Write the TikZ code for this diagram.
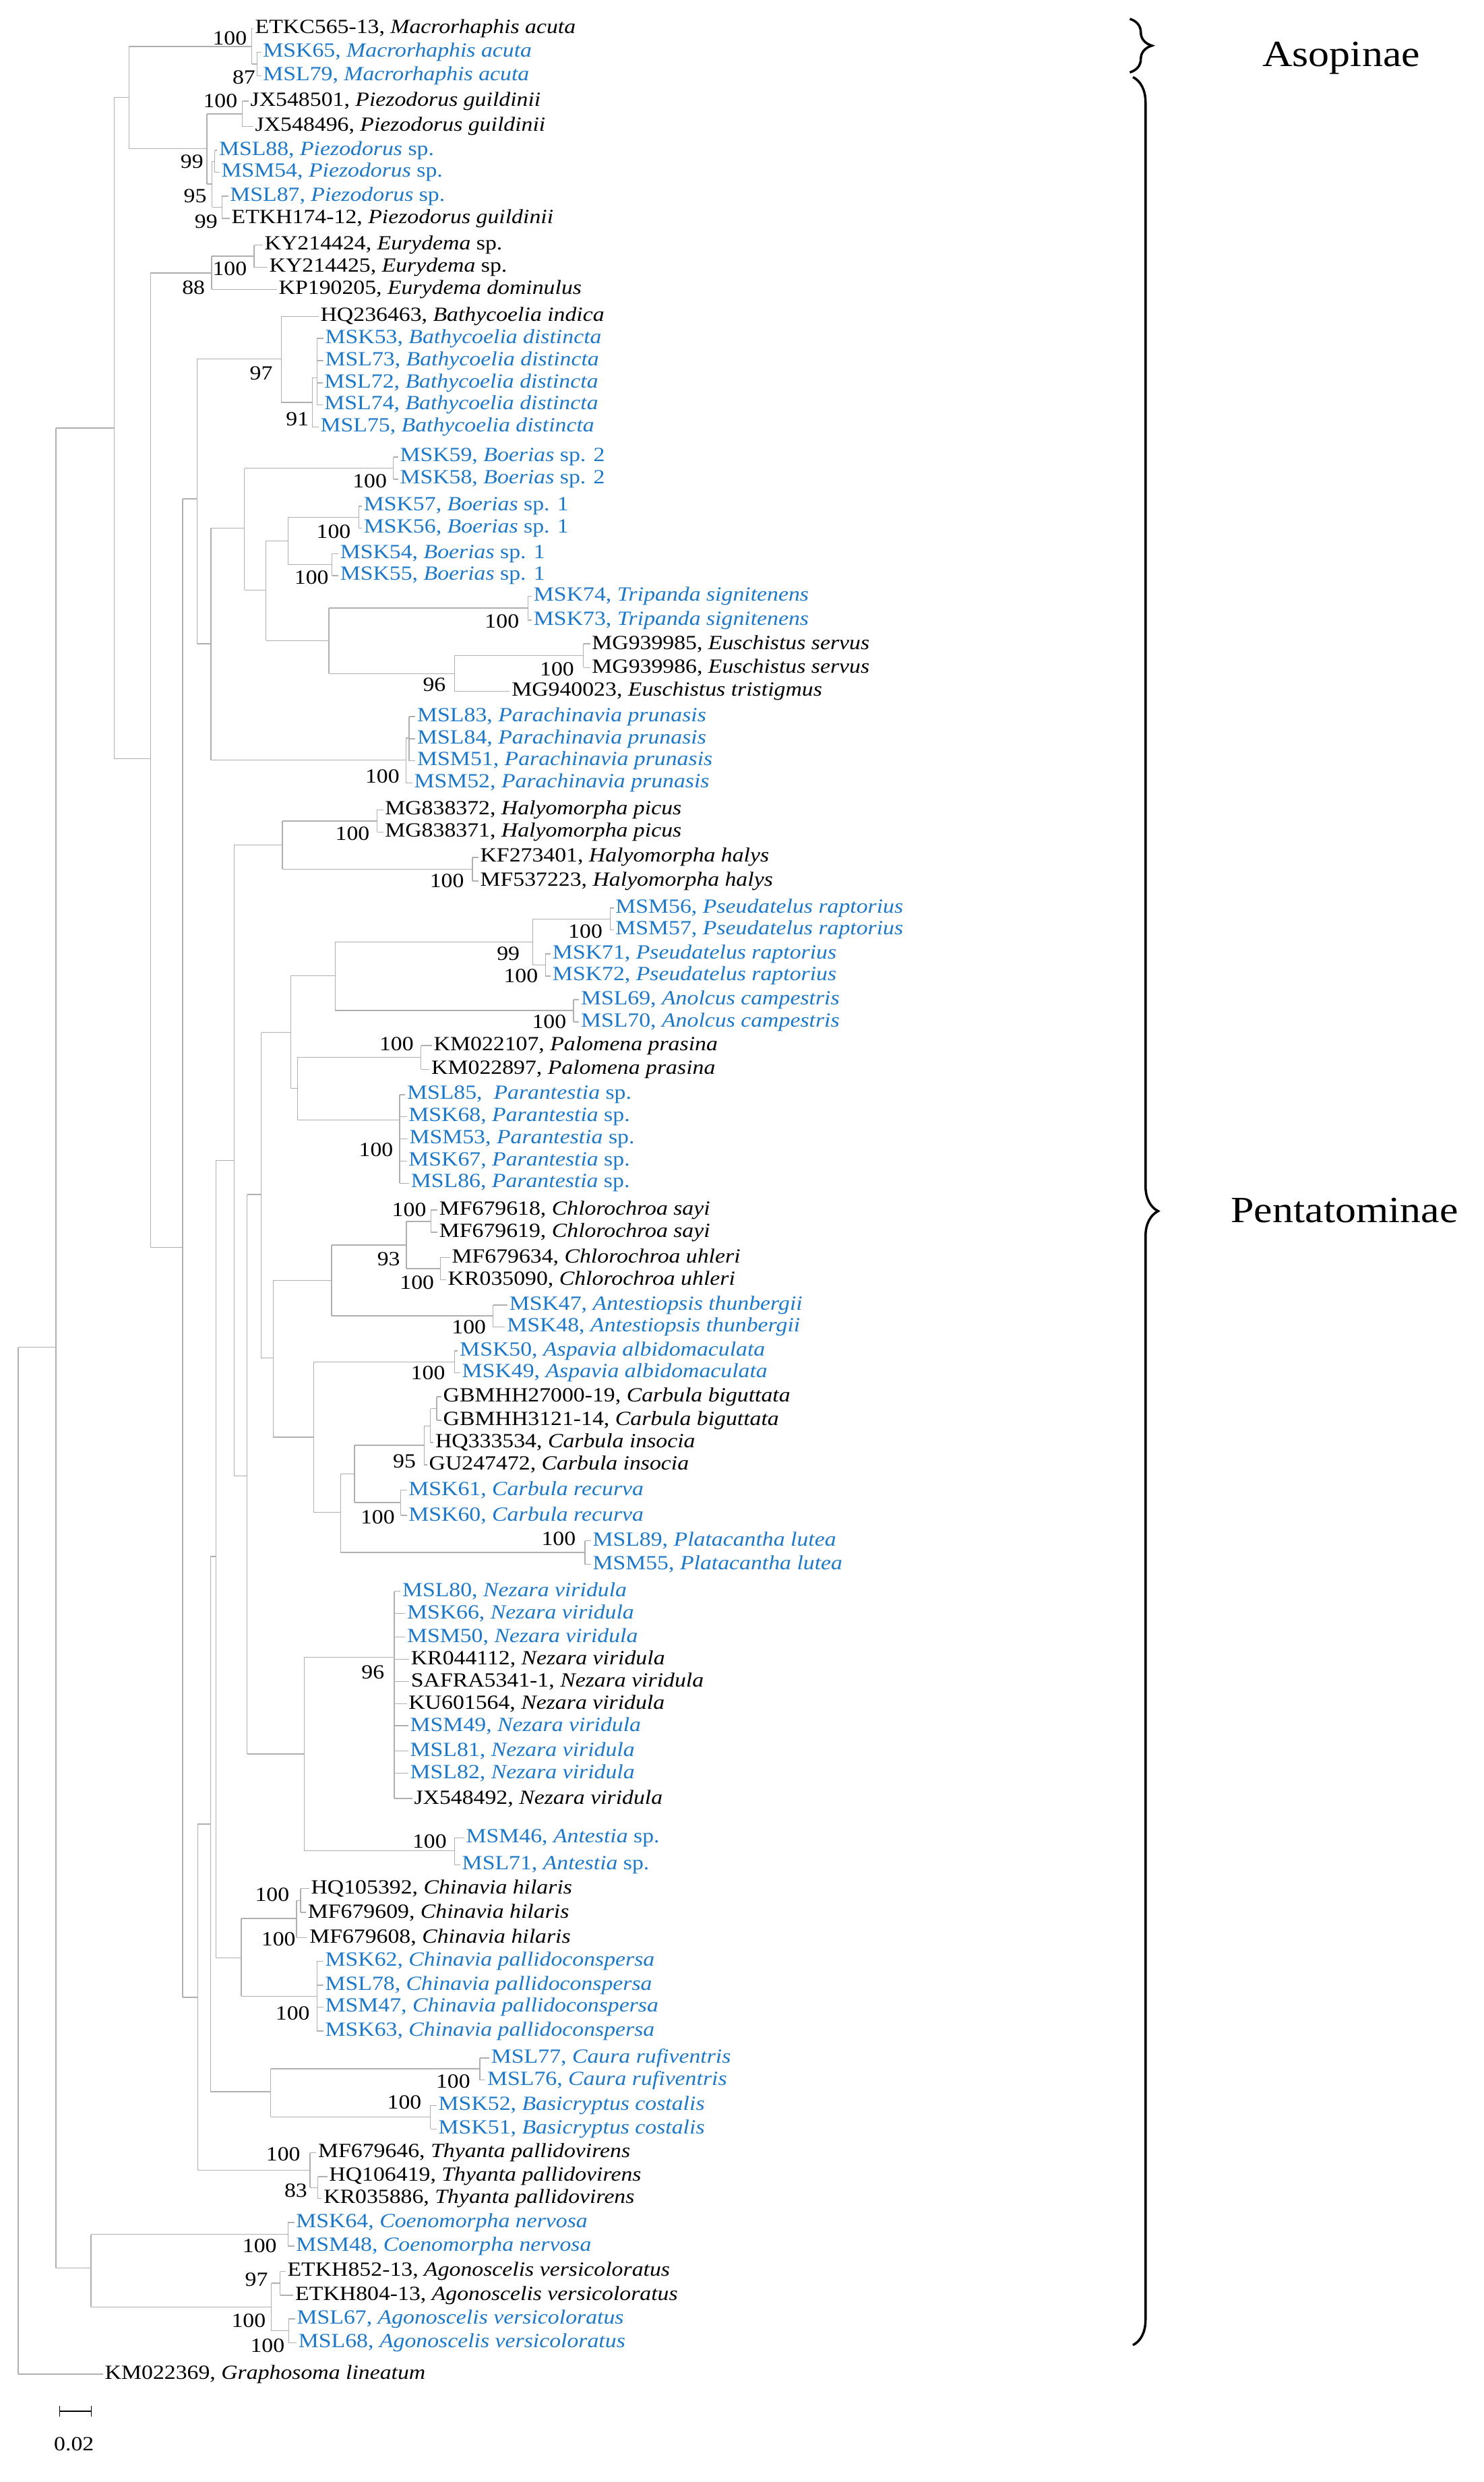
\documentclass[tikz,border=0pt]{standalone}
\usepackage{fontspec}
\setmainfont{Liberation Serif}[FakeStretch=1.13]
\usetikzlibrary{decorations.pathreplacing}
\definecolor{sblue}{RGB}{30,120,200}
\definecolor{brg}{RGB}{175,175,175}
\newcommand\sn[1]{\textit{#1}}
\newcommand\Tip[5]{\node[tip,text=#5] (#1) at (#2,{1.005*#3}) {#4};}
\newcommand\Tips[2]{\foreach \tn in {#2}{\draw[br] (\tn.west -| #1,0) -- (\tn.west);}}
\newcommand\Vt[3]{\draw[br] (#2.west -| #1,0) -- (#3.west -| #1,0);}
\newcommand\Vm[3]{\draw[br] (#1,#2) -- (#3.west -| #1,0);}
\newcommand\Vb[3]{\draw[br] (#1,#2) -- (#1,#3);}
\newcommand\Hb[3]{\draw[br] (#1,#3) -- (#2,#3);}
\newcommand\Bs[3]{\node[bs] at (#1,{1.005*#2}) {#3};}
\begin{document}
\begin{tikzpicture}[x=1pt,y=-1pt,
  tip/.style={anchor=west,inner sep=1pt,font=\fontsize{12.8}{14}\selectfont},
  bs/.style={inner sep=0pt,font=\fontsize{12.8}{14}\selectfont},
  br/.style={draw=brg,line width=0.6pt},
  brace/.style={decorate,line width=1.5pt}]
\useasboundingbox (0,0) rectangle (943,1577);
% ---------- tips ----------
\Tip{t1}{161}{18}{ETKC565-13, \sn{Macrorhaphis acuta}}{black}
\Tip{t2}{166}{33}{MSK65, \sn{Macrorhaphis acuta}}{sblue}
\Tip{t3}{166}{48}{MSL79, \sn{Macrorhaphis acuta}}{sblue}
\Tip{t4}{158}{64}{JX548501, \sn{Piezodorus guildinii}}{black}
\Tip{t5}{161}{80}{JX548496, \sn{Piezodorus guildinii}}{black}
\Tip{t6}{138}{95}{MSL88, \sn{Piezodorus} sp.}{sblue}
\Tip{t7}{139.5}{109}{MSM54, \sn{Piezodorus} sp.}{sblue}
\Tip{t8}{145}{124}{MSL87, \sn{Piezodorus} sp.}{sblue}
\Tip{t9}{146}{138}{ETKH174-12, \sn{Piezodorus guildinii}}{black}
\Tip{t10}{167}{155}{KY214424, \sn{Eurydema} sp.}{black}
\Tip{t11}{170}{169}{KY214425, \sn{Eurydema} sp.}{black}
\Tip{t12}{176}{183}{KP190205, \sn{Eurydema dominulus}}{black}
\Tip{t13}{202.5}{200}{HQ236463, \sn{Bathycoelia indica}}{black}
\Tip{t14}{205.5}{214}{MSK53, \sn{Bathycoelia distincta}}{sblue}
\Tip{t15}{205.5}{228}{MSL73, \sn{Bathycoelia distincta}}{sblue}
\Tip{t16}{205}{242}{MSL72, \sn{Bathycoelia distincta}}{sblue}
\Tip{t17}{205}{256}{MSL74, \sn{Bathycoelia distincta}}{sblue}
\Tip{t18}{202.5}{270}{MSL75, \sn{Bathycoelia distincta}}{sblue}
\Tip{t19}{253}{289}{MSK59, \sn{Boerias} sp. 2}{sblue}
\Tip{t20}{253}{303}{MSK58, \sn{Boerias} sp. 2}{sblue}
\Tip{t21}{230}{320}{MSK57, \sn{Boerias} sp. 1}{sblue}
\Tip{t22}{230}{334}{MSK56, \sn{Boerias} sp. 1}{sblue}
\Tip{t23}{215}{350}{MSK54, \sn{Boerias} sp. 1}{sblue}
\Tip{t24}{215}{364}{MSK55, \sn{Boerias} sp. 1}{sblue}
\Tip{t25}{338}{377}{MSK74, \sn{Tripanda signitenens}}{sblue}
\Tip{t26}{338}{392}{MSK73, \sn{Tripanda signitenens}}{sblue}
\Tip{t27}{375}{407}{MG939985, \sn{Euschistus servus}}{black}
\Tip{t28}{375}{422}{MG939986, \sn{Euschistus servus}}{black}
\Tip{t29}{324}{437}{MG940023, \sn{Euschistus tristigmus}}{black}
\Tip{t30}{264}{453}{MSL83, \sn{Parachinavia prunasis}}{sblue}
\Tip{t31}{264}{467}{MSL84, \sn{Parachinavia prunasis}}{sblue}
\Tip{t32}{264}{481}{MSM51, \sn{Parachinavia prunasis}}{sblue}
\Tip{t33}{262}{495}{MSM52, \sn{Parachinavia prunasis}}{sblue}
\Tip{t34}{243.5}{512}{MG838372, \sn{Halyomorpha picus}}{black}
\Tip{t35}{243.5}{526}{MG838371, \sn{Halyomorpha picus}}{black}
\Tip{t36}{304}{542}{KF273401, \sn{Halyomorpha halys}}{black}
\Tip{t37}{304}{557}{MF537223, \sn{Halyomorpha halys}}{black}
\Tip{t38}{390}{574}{MSM56, \sn{Pseudatelus raptorius}}{sblue}
\Tip{t39}{390}{588}{MSM57, \sn{Pseudatelus raptorius}}{sblue}
\Tip{t40}{350}{603}{MSK71, \sn{Pseudatelus raptorius}}{sblue}
\Tip{t41}{350}{617}{MSK72, \sn{Pseudatelus raptorius}}{sblue}
\Tip{t42}{368}{632}{MSL69, \sn{Anolcus campestris}}{sblue}
\Tip{t43}{368}{646}{MSL70, \sn{Anolcus campestris}}{sblue}
\Tip{t44}{274.5}{661}{KM022107, \sn{Palomena prasina}}{black}
\Tip{t45}{273}{676}{KM022897, \sn{Palomena prasina}}{black}
\Tip{t46}{257.5}{692}{MSL85,\ \ \sn{Parantestia} sp.}{sblue}
\Tip{t47}{258.5}{706}{MSK68, \sn{Parantestia} sp.}{sblue}
\Tip{t48}{259}{720}{MSM53, \sn{Parantestia} sp.}{sblue}
\Tip{t49}{258.5}{734}{MSK67, \sn{Parantestia} sp.}{sblue}
\Tip{t50}{260}{748}{MSL86, \sn{Parantestia} sp.}{sblue}
\Tip{t51}{278}{765}{MF679618, \sn{Chlorochroa sayi}}{black}
\Tip{t52}{278}{779}{MF679619, \sn{Chlorochroa sayi}}{black}
\Tip{t53}{286}{795}{MF679634, \sn{Chlorochroa uhleri}}{black}
\Tip{t54}{283.5}{809}{KR035090, \sn{Chlorochroa uhleri}}{black}
\Tip{t55}{322.5}{825}{MSK47, \sn{Antestiopsis thunbergii}}{sblue}
\Tip{t56}{321}{839}{MSK48, \sn{Antestiopsis thunbergii}}{sblue}
\Tip{t57}{291}{854}{MSK50, \sn{Aspavia albidomaculata}}{sblue}
\Tip{t58}{292.5}{868}{MSK49, \sn{Aspavia albidomaculata}}{sblue}
\Tip{t59}{280.5}{883}{GBMHH27000-19, \sn{Carbula biguttata}}{black}
\Tip{t60}{280.5}{898}{GBMHH3121-14, \sn{Carbula biguttata}}{black}
\Tip{t61}{275.5}{912}{HQ333534, \sn{Carbula insocia}}{black}
\Tip{t62}{271.5}{926}{GU247472, \sn{Carbula insocia}}{black}
\Tip{t63}{258.5}{942}{MSK61, \sn{Carbula recurva}}{sblue}
\Tip{t64}{258.5}{958}{MSK60, \sn{Carbula recurva}}{sblue}
\Tip{t65}{375.5}{974}{MSL89, \sn{Platacantha lutea}}{sblue}
\Tip{t66}{375.5}{989}{MSM55, \sn{Platacantha lutea}}{sblue}
\Tip{t67}{254.5}{1006}{MSL80, \sn{Nezara viridula}}{sblue}
\Tip{t68}{257.5}{1020}{MSK66, \sn{Nezara viridula}}{sblue}
\Tip{t69}{257.5}{1035}{MSM50, \sn{Nezara viridula}}{sblue}
\Tip{t70}{260}{1049}{KR044112, \sn{Nezara viridula}}{black}
\Tip{t71}{260}{1063}{SAFRA5341-1, \sn{Nezara viridula}}{black}
\Tip{t72}{258.5}{1077}{KU601564, \sn{Nezara viridula}}{black}
\Tip{t73}{259.5}{1091}{MSM49, \sn{Nezara viridula}}{sblue}
\Tip{t74}{259.5}{1107}{MSL81, \sn{Nezara viridula}}{sblue}
\Tip{t75}{259.5}{1121}{MSL82, \sn{Nezara viridula}}{sblue}
\Tip{t76}{262}{1137}{JX548492, \sn{Nezara viridula}}{black}
\Tip{t77}{295}{1162}{MSM46, \sn{Antestia} sp.}{sblue}
\Tip{t78}{292.5}{1179}{MSL71, \sn{Antestia} sp.}{sblue}
\Tip{t79}{196.5}{1194}{HQ105392, \sn{Chinavia hilaris}}{black}
\Tip{t80}{194.5}{1209}{MF679609, \sn{Chinavia hilaris}}{black}
\Tip{t81}{195.5}{1225}{MF679608, \sn{Chinavia hilaris}}{black}
\Tip{t82}{205.5}{1240}{MSK62, \sn{Chinavia pallidoconspersa}}{sblue}
\Tip{t83}{205.5}{1255}{MSL78, \sn{Chinavia pallidoconspersa}}{sblue}
\Tip{t84}{205.5}{1269}{MSM47, \sn{Chinavia pallidoconspersa}}{sblue}
\Tip{t85}{205.5}{1284}{MSK63, \sn{Chinavia pallidoconspersa}}{sblue}
\Tip{t86}{311}{1301}{MSL77, \sn{Caura rufiventris}}{sblue}
\Tip{t87}{308.5}{1315}{MSL76, \sn{Caura rufiventris}}{sblue}
\Tip{t88}{277.5}{1331}{MSK52, \sn{Basicryptus costalis}}{sblue}
\Tip{t89}{277.5}{1346}{MSK51, \sn{Basicryptus costalis}}{sblue}
\Tip{t90}{201}{1361}{MF679646, \sn{Thyanta pallidovirens}}{black}
\Tip{t91}{208}{1376}{HQ106419, \sn{Thyanta pallidovirens}}{black}
\Tip{t92}{204.5}{1390}{KR035886, \sn{Thyanta pallidovirens}}{black}
\Tip{t93}{187}{1405}{MSK64, \sn{Coenomorpha nervosa}}{sblue}
\Tip{t94}{187}{1420}{MSM48, \sn{Coenomorpha nervosa}}{sblue}
\Tip{t95}{181.5}{1436}{ETKH852-13, \sn{Agonoscelis versicoloratus}}{black}
\Tip{t96}{186.5}{1451}{ETKH804-13, \sn{Agonoscelis versicoloratus}}{black}
\Tip{t97}{187.5}{1466}{MSL67, \sn{Agonoscelis versicoloratus}}{sblue}
\Tip{t98}{188.5}{1481}{MSL68, \sn{Agonoscelis versicoloratus}}{sblue}
\Tip{t99}{65.5}{1501}{KM022369, \sn{Graphosoma lineatum}}{black}
% ---------- branches ----------
\Vm{11.5}{856}{t99}\Tips{11.5}{t99}
\Hb{11.5}{35.6}{856}
\Vb{35.6}{272}{1441}\Hb{35.6}{72.5}{272}\Hb{35.6}{57.9}{1441}
\Vb{57.9}{1419.7}{1465.8}
\Hb{57.9}{183}{1419.7}\Vt{183}{t93}{t94}\Tips{183}{t93,t94}
\Hb{57.9}{172.5}{1465.8}\Vb{172.5}{1450.7}{1480.9}
\Hb{172.5}{178}{1450.7}\Vt{178}{t95}{t96}\Tips{178}{t95,t96}
\Hb{172.5}{183.5}{1480.9}\Vt{183.5}{t97}{t98}\Tips{183.5}{t97,t98}
% upper part
\Vb{72.5}{62}{482}\Hb{72.5}{81.9}{62}\Hb{72.5}{95.6}{482}
\Vb{81.9}{29.5}{94.5}\Hb{81.9}{160}{29.5}\Hb{81.9}{131.5}{94.5}
\Vm{160}{40.7}{t1}\Tips{160}{t1}\Hb{160}{163.5}{40.7}\Vt{163.5}{t2}{t3}\Tips{163.5}{t2,t3}
\Vb{131.5}{72.4}{117}\Hb{131.5}{154}{72.4}\Vt{154}{t4}{t5}\Tips{154}{t4,t5}
\Hb{131.5}{134.7}{117}\Vb{134.7}{102.5}{131.6}
\Hb{134.7}{136.5}{102.5}\Vt{136.5}{t6}{t7}\Tips{136.5}{t6,t7}
\Hb{134.7}{141}{131.6}\Vt{141}{t8}{t9}\Tips{141}{t8,t9}
\Vb{95.6}{173.4}{792.5}\Hb{95.6}{134.5}{173.4}\Hb{95.6}{116}{792.5}
\Vm{134.5}{162.8}{t12}\Tips{134.5}{t12}\Hb{134.5}{161.5}{162.8}\Vt{161.5}{t10}{t11}\Tips{161.5}{t10,t11}
\Vb{116}{317}{1269}\Hb{116}{125.4}{317}\Hb{116}{125.6}{1269}
\Vb{125.4}{228}{409}\Hb{125.4}{178.7}{228}\Hb{125.4}{134}{409}
\Vm{178.7}{255.7}{t13}\Tips{178.7}{t13}\Hb{178.7}{198.6}{255.7}
\Vm{198.6}{240}{t18}\Tips{198.6}{t18}\Hb{198.6}{201.5}{240}
\Vt{201.5}{t14}{t17}\Tips{201.5}{t14,t15,t16,t17}
\Vb{134}{335.5}{483}\Hb{134}{155.3}{335.5}\Hb{134}{258}{483}
\Vb{155.3}{297.5}{374.9}\Hb{155.3}{250}{297.5}\Vt{250}{t19}{t20}\Tips{250}{t19,t20}
\Hb{155.3}{169}{374.9}\Vb{169}{343.7}{407}
\Hb{169}{183}{343.7}\Vb{183}{328.6}{358.8}
\Hb{183}{228}{328.6}\Vt{228}{t21}{t22}\Tips{228}{t21,t22}
\Hb{183}{211}{358.8}\Vt{211}{t23}{t24}\Tips{211}{t23,t24}
\Hb{169}{209}{407}\Vb{209}{386.4}{428}
\Hb{209}{335.5}{386.4}\Vt{335.5}{t25}{t26}\Tips{335.5}{t25,t26}
\Hb{209}{288.8}{428}\Vm{288.8}{416.6}{t29}\Tips{288.8}{t29}
\Hb{288.8}{370.7}{416.6}\Vt{370.7}{t27}{t28}\Tips{370.7}{t27,t28}
\Vm{258}{469}{t33}\Tips{258}{t33}\Hb{258}{260}{469}\Vt{260}{t30}{t32}\Tips{260}{t30,t31,t32}
% lower part
\Vb{125.6}{1159}{1379}\Hb{125.6}{133.8}{1159}\Hb{125.6}{197}{1379}
\Vm{197}{1390}{t90}\Tips{197}{t90}\Hb{197}{202}{1390}\Vt{202}{t91}{t92}\Tips{202}{t91,t92}
\Vb{133.8}{989}{1329}\Hb{133.8}{137.3}{989}\Hb{133.8}{172}{1329}
\Vb{172}{1314.5}{1345}
\Hb{172}{305}{1314.5}\Vt{305}{t86}{t87}\Tips{305}{t86,t87}
\Hb{172}{273.5}{1345}\Vt{273.5}{t88}{t89}\Tips{273.5}{t88,t89}
\Vb{137.3}{737.3}{1244}\Hb{137.3}{148.8}{737.3}\Hb{137.3}{153.4}{1244}
\Vb{153.4}{1219}{1268.3}\Hb{153.4}{188.4}{1219}
\Vm{188.4}{1207.5}{t81}\Tips{188.4}{t81}\Hb{188.4}{191}{1207.5}\Vt{191}{t79}{t80}\Tips{191}{t79,t80}
\Hb{153.4}{201.5}{1268.3}\Vt{201.5}{t82}{t85}\Tips{201.5}{t82,t83,t84,t85}
\Vb{148.8}{536.8}{937.8}\Hb{148.8}{179.4}{536.8}\Hb{148.8}{157}{937.8}
\Vb{179.4}{521.6}{552.2}
\Hb{179.4}{239.7}{521.6}\Vt{239.7}{t34}{t35}\Tips{239.7}{t34,t35}
\Hb{179.4}{300.3}{552.2}\Vt{300.3}{t36}{t37}\Tips{300.3}{t36,t37}
\Vb{157}{759}{1114.5}\Hb{157}{166}{759}\Hb{157}{193.3}{1114.5}
\Vb{166}{656}{862.8}\Hb{166}{184.8}{656}\Hb{166}{173.6}{862.8}
\Vb{184.8}{620}{691.6}\Hb{184.8}{213}{620}\Hb{184.8}{189}{691.6}
\Vb{213}{598.5}{642}\Hb{213}{338.5}{598.5}\Vb{338.5}{584}{613}
\Hb{338.5}{387.7}{584}\Vt{387.7}{t38}{t39}\Tips{387.7}{t38,t39}
\Hb{338.5}{346.7}{613}\Vt{346.7}{t40}{t41}\Tips{346.7}{t40,t41}
\Hb{213}{364.5}{642}\Vt{364.5}{t42}{t43}\Tips{364.5}{t42,t43}
\Vb{189}{671.8}{711.5}
\Hb{189}{267.5}{671.8}\Vt{267.5}{t44}{t45}\Tips{267.5}{t44,t45}
\Hb{189}{254}{711.5}\Vt{254}{t46}{t50}\Tips{254}{t46,t47,t48,t49,t50}
\Vb{173.6}{813.5}{913.2}\Hb{173.6}{210.8}{813.5}\Hb{173.6}{199.3}{913.2}
\Vb{210.8}{791}{836}\Hb{210.8}{258.3}{791}\Vb{258.3}{776}{806}
\Hb{258.3}{273.8}{776}\Vt{273.8}{t51}{t52}\Tips{273.8}{t51,t52}
\Hb{258.3}{279.8}{806}\Vt{279.8}{t53}{t54}\Tips{279.8}{t53,t54}
\Hb{210.8}{313.4}{836}\Vt{313.4}{t55}{t56}\Tips{313.4}{t55,t56}
\Vb{199.3}{865.3}{961}\Hb{199.3}{288.8}{865.3}\Vt{288.8}{t57}{t58}\Tips{288.8}{t57,t58}
\Hb{199.3}{216.5}{961}
\Vb{216.5}{936.5}{986.4}\Hb{216.5}{225.2}{936.5}
\Hb{216.5}{371.8}{986.4}\Vt{371.8}{t65}{t66}\Tips{371.8}{t65,t66}
\Vb{225.2}{918.3}{954.7}\Hb{225.2}{269.5}{918.3}
\Hb{225.2}{254.7}{954.7}\Vt{254.7}{t63}{t64}\Tips{254.7}{t63,t64}
\Vm{269.5}{906}{t62}\Tips{269.5}{t62}\Hb{269.5}{273.5}{906}
\Vm{273.5}{895}{t61}\Tips{273.5}{t61}\Hb{273.5}{277.5}{895}
\Vt{277.5}{t59}{t60}\Tips{277.5}{t59,t60}
\Vb{193.3}{1053}{1176}
\Hb{193.3}{250.6}{1053}\Vt{250.6}{t67}{t76}\Tips{250.6}{t67,t68,t69,t70,t71,t72,t73,t74,t75,t76}
\Hb{193.3}{288.8}{1176}\Vt{288.8}{t77}{t78}\Tips{288.8}{t77,t78}
% ---------- bootstrap values ----------
\Bs{146}{24}{100}\Bs{155}{49}{87}\Bs{140}{64}{100}\Bs{122}{102}{99}
\Bs{124}{124}{95}\Bs{131}{140}{99}\Bs{146}{170}{100}\Bs{123}{182}{88}
\Bs{166}{236}{97}\Bs{189}{265}{91}\Bs{235}{304}{100}\Bs{212}{336}{100}
\Bs{198}{365}{100}\Bs{319}{393}{100}\Bs{354}{423}{100}\Bs{276}{433}{96}
\Bs{243}{491}{100}\Bs{224}{527}{100}\Bs{284}{557}{100}\Bs{372}{589}{100}
\Bs{323}{603}{99}\Bs{331}{617}{100}\Bs{349}{646}{100}\Bs{252}{660}{100}
\Bs{239}{727}{100}\Bs{260}{765}{100}\Bs{247}{796}{93}\Bs{265}{811}{100}
\Bs{298}{839}{100}\Bs{272}{868}{100}\Bs{257}{924}{95}\Bs{240}{959}{100}
\Bs{355}{973}{100}\Bs{237}{1057}{96}\Bs{273}{1164}{100}\Bs{173}{1198}{100}
\Bs{177}{1226}{100}\Bs{186}{1273}{100}\Bs{288}{1316}{100}\Bs{257}{1329}{100}
\Bs{180}{1362}{100}\Bs{188}{1385}{83}\Bs{165}{1420}{100}\Bs{163}{1441}{97}
\Bs{158}{1467}{100}\Bs{170}{1483}{100}
% ---------- scale bar ----------
\coordinate (s1) at (38,1532);
\coordinate (s2) at (58,1532);
\draw[line width=0.6pt] (s1) -- (s2);
\draw[line width=0.6pt] ([yshift=-3.5pt]s1) -- ([yshift=3.5pt]s1);
\draw[line width=0.6pt] ([yshift=-3.5pt]s2) -- ([yshift=3.5pt]s2);
\node[bs] (sl) at (47,1553) {0.02};
% ---------- braces ----------
\draw[brace,decoration={brace,amplitude=14pt}] (718,12) -- (718,46);
\draw[brace,decoration={brace,amplitude=16pt}] (720,49) -- (720,1490);
\node[anchor=west,inner sep=0pt,font=\fontsize{23.5}{26}\selectfont] (asop) at (802,37) {Asopinae};
\node[anchor=west,inner sep=0pt,font=\fontsize{23.5}{26}\selectfont] (pent) at (782,769) {Pentatominae};
\end{tikzpicture}
\end{document}
